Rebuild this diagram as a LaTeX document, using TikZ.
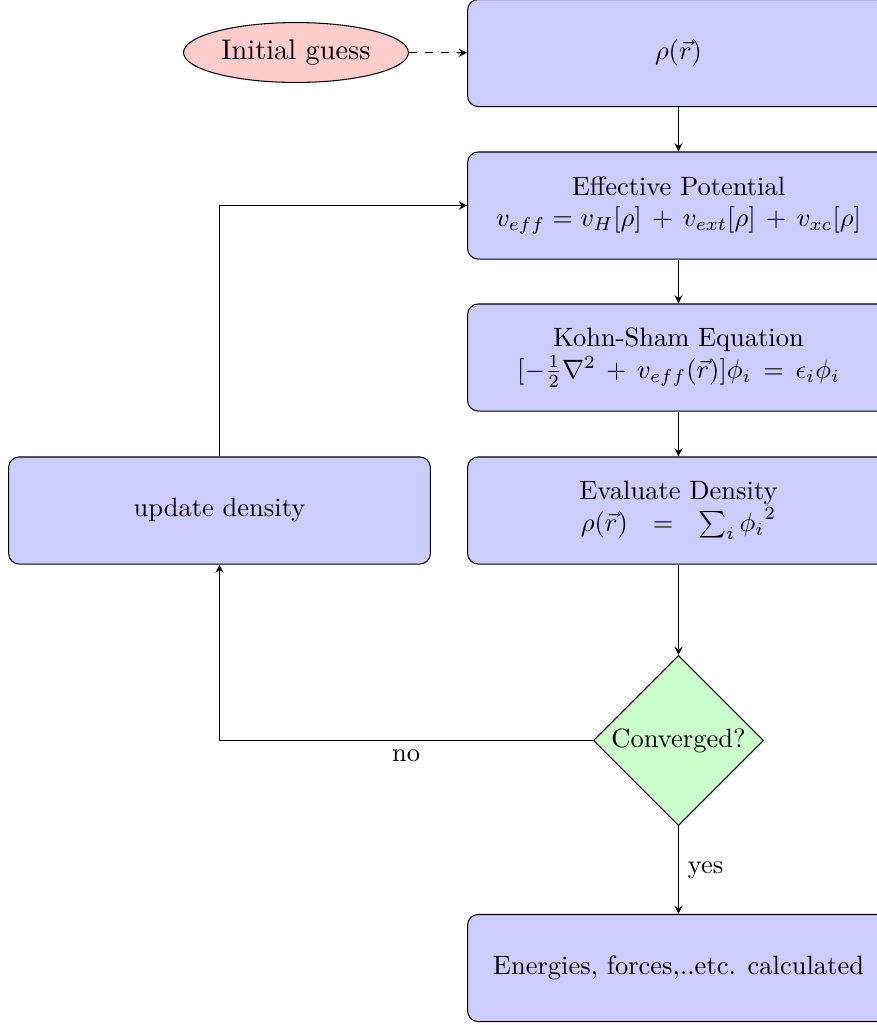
\documentclass[tikz,border=0pt]{standalone}
\usetikzlibrary{shapes.geometric,arrows}
\begin{document}
\begin{tikzpicture}[x=0.3774pt,y=-0.3774pt,
  block/.style={rectangle,draw,fill=blue!20,rounded corners=4pt,
    minimum width=159.2pt,minimum height=40.4pt,align=center,inner sep=0pt},
  startnode/.style={ellipse,draw,fill=red!20,minimum width=84.9pt,
    minimum height=22.6pt,inner sep=0pt},
  decision/.style={diamond,draw,fill=green!20,aspect=1,
    minimum width=64.2pt,minimum height=64.2pt,inner sep=0pt},
  flow/.style={draw,-stealth},
]
\useasboundingbox (0,0) rectangle (877,1025);
\clip (0,0) rectangle (877,1025);

% nodes
\node[startnode] (init) at (296,52.5) {\fontsize{10.7}{13}\selectfont Initial guess};
\node[block] (rho) at (678.5,53) {$\rho(\vec{r})$};
\node[block] (veff) at (678.5,205.5) {Effective Potential\\
  $v_{eff} = v_H[\rho]\,+\,v_{ext}[\rho]\,+\,v_{xc}[\rho]$};
\node[block] (ks) at (678.5,357.5) {Kohn-Sham Equation\\
  $[-\frac{1}{2}\nabla^2\,+\,v_{eff}(\vec{r})]\phi_i\,=\,\epsilon_i\phi_i$};
\node[block] (dens) at (678.5,510.5) {Evaluate Density\\
  $\rho(\vec{r})\ \ =\ \ \sum_i{\phi_i}^2$};
\node[block] (upd) at (219.5,510.5) {update density};
\node[decision] (conv) at (678.5,740.5) {Converged?};
\node[block] (done) at (678.5,968) {Energies, forces,..etc. calculated};

% connectors
\draw[flow,dashed] (init) -- (rho);
\draw[flow] (rho) -- (veff);
\draw[flow] (veff) -- (ks);
\draw[flow] (ks) -- (dens);
\draw[flow] (dens) -- (conv);
\draw[flow] (conv) -- node[right] {yes} (done);
\draw[flow] (conv.west) -- node[below] {no} (upd.south |- conv.west) -- (upd.south);
\draw[flow] (upd.north) |- (veff.west);
\end{tikzpicture}
\end{document}
